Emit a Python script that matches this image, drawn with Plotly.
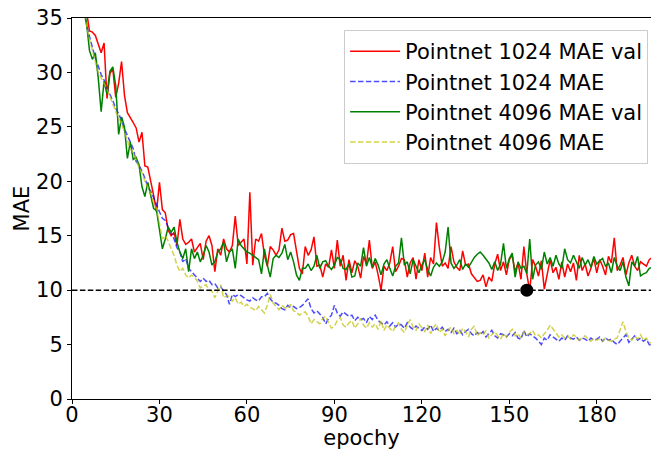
import plotly.graph_objects as go

# Per-epoch MAE curves (epochs 0..199)
val_1024 = [
    48.0, 44.5, 41.0, 39.0, 37.0, 35.6, 33.8, 33.7, 33.4, 32.6,
    31.8, 32.7, 27.6, 29.9, 30.3, 27.7, 29.0, 31.0, 27.9, 26.3,
    25.9, 25.4, 24.9, 23.6, 24.5, 21.4, 21.3, 20.1, 18.7, 17.2,
    19.9, 17.4, 17.1, 15.5, 15.0, 15.3, 14.1, 16.5, 14.7, 14.2,
    14.4, 14.7, 13.5, 13.9, 14.3, 12.8, 14.5, 15.0, 14.1, 11.7,
    13.8, 13.2, 14.7, 13.8, 13.5, 14.1, 16.8, 14.1, 14.4, 14.7,
    12.4, 19.0, 12.3, 14.7, 14.5, 15.2, 13.2, 12.2, 14.0, 13.7,
    13.2, 13.7, 15.7, 14.5, 14.6, 15.1, 15.2, 13.7, 12.0, 11.5,
    14.0, 13.2, 13.7, 14.9, 12.2, 12.3, 11.2, 12.4, 12.1, 13.7,
    12.0, 14.6, 12.2, 13.2, 10.9, 12.8, 11.6, 12.7, 12.2, 11.1,
    13.1, 12.4, 14.6, 12.0, 12.6, 11.4, 10.0, 12.2, 11.8, 12.5,
    14.0, 11.7, 12.2, 12.9, 12.8, 11.2, 12.5, 13.0, 11.0, 12.8,
    11.8, 13.4, 11.2, 13.0, 12.4, 16.2, 13.9, 12.2, 12.5, 12.0,
    14.0, 12.6, 12.1, 11.8, 13.6, 12.3, 12.4, 11.5, 11.2, 10.8,
    10.9, 11.4, 10.3, 11.2, 10.8, 12.4, 13.3, 11.8, 12.6, 11.4,
    12.8, 13.2, 11.7, 12.5, 11.0, 14.0, 11.5, 9.9, 12.8, 12.2,
    11.3, 12.7, 10.1, 11.5, 12.8, 11.6, 12.1, 11.0, 12.6, 11.2,
    12.4, 11.7, 12.5, 10.9, 13.2, 11.8, 12.4, 11.3, 12.0, 12.9,
    11.6, 12.8, 12.2, 11.4, 13.1, 12.5, 14.8, 11.8, 12.3, 13.0,
    11.4, 12.5, 13.2, 12.2, 11.8, 12.6, 12.4, 12.2, 12.8, 13.0,
]

train_1024 = [
    45.0, 42.0, 39.5, 37.5, 35.8, 34.3, 33.3, 32.2, 31.3, 30.6,
    29.8, 29.3, 28.6, 28.0, 27.4, 26.7, 26.2, 25.6, 24.8, 24.2,
    23.6, 23.0, 21.8, 21.5, 20.9, 20.3, 19.5, 19.1, 18.5, 17.8,
    17.2, 16.6, 16.4, 15.8, 15.2, 14.7, 13.9, 13.5, 12.6, 12.9,
    12.0, 11.7, 11.4, 11.1, 10.8, 11.1, 10.8, 10.9, 10.5, 10.6,
    10.2, 10.3, 9.9, 9.6, 8.7, 9.6, 9.4, 9.6, 9.5, 9.3,
    9.1, 9.0, 9.3, 9.1, 9.0, 9.4, 9.4, 9.7, 9.2, 8.9,
    8.8, 8.6, 8.3, 8.2, 8.6, 8.4, 8.5, 8.3, 8.4, 8.6,
    8.9, 9.2, 8.3, 7.9, 8.1, 7.8, 7.5, 6.9, 7.4, 7.7,
    8.6, 7.9, 7.6, 8.0, 7.8, 7.6, 7.7, 7.2, 7.5, 7.3,
    7.4, 7.0, 7.6, 7.3, 7.7, 7.2, 7.0, 6.8, 7.1, 6.7,
    7.0, 6.6, 6.9, 6.8, 6.5, 7.0, 6.6, 6.4, 6.7, 6.5,
    6.3, 6.6, 6.4, 6.8, 6.2, 6.5, 6.3, 6.6, 6.2, 6.4,
    6.1, 6.5, 6.0, 6.3, 5.9, 6.2, 6.4, 6.0, 5.8, 6.1,
    5.9, 6.2, 5.7, 6.0, 6.3, 5.8, 5.6, 6.0, 5.9, 5.7,
    6.0, 5.8, 6.1, 5.6, 5.5, 6.3, 5.7, 6.0, 5.8, 5.6,
    5.3, 5.0, 5.6, 5.4, 5.9, 5.7, 5.5, 5.3, 5.6, 5.4,
    5.8, 5.6, 5.5, 5.7, 5.4, 5.6, 5.5, 5.3, 5.6, 5.4,
    5.5, 5.7, 5.3, 5.6, 5.4, 5.5, 5.2, 5.0, 5.3, 5.6,
    5.9, 5.2, 5.5, 5.8, 5.4, 5.6, 5.3, 5.5, 5.0, 4.9,
]

val_4096 = [
    47.0, 43.5, 40.0, 37.5, 36.0, 34.5, 32.0, 31.2, 31.8, 29.5,
    26.4, 29.2, 28.0, 30.1, 30.5, 28.8, 24.3, 25.9, 25.0, 22.1,
    23.6, 22.0, 22.2, 21.5, 19.5, 18.6, 19.9, 18.6, 17.5, 17.3,
    15.6, 13.8, 14.7, 15.8, 15.3, 15.8, 14.4, 13.5, 12.9, 13.8,
    11.7, 13.8, 12.9, 13.5, 12.6, 13.2, 14.1, 13.5, 12.3, 12.6,
    13.5, 13.8, 14.4, 12.6, 13.5, 13.8, 12.0, 14.7, 14.1, 13.8,
    13.5, 13.4, 13.2, 13.0, 12.8, 11.5, 13.8, 12.3, 11.2, 12.9,
    13.2, 13.0, 13.4, 14.2, 12.8, 13.5, 12.6, 11.4, 10.9, 12.0,
    12.0, 12.4, 11.8, 12.2, 13.2, 12.0, 12.6, 12.7, 12.2, 11.9,
    12.3, 13.0, 12.8, 12.0, 11.9, 12.4, 11.2, 11.3, 12.5, 12.2,
    13.9, 12.2, 13.0, 12.1, 12.9, 12.3, 11.4, 12.4, 12.8, 12.0,
    11.3, 12.2, 12.5, 14.8, 12.3, 12.6, 11.5, 12.8, 12.2, 11.6,
    12.3, 12.8, 11.9, 11.3, 12.1, 12.5, 12.2, 12.6, 13.5, 15.8,
    12.5, 12.0, 12.3, 12.8, 11.9, 12.4, 12.1, 12.6, 13.0, 13.3,
    13.5, 13.2, 12.8, 12.5, 11.9, 12.6, 11.8, 12.4, 14.3, 12.0,
    12.9, 13.4, 11.2, 12.6, 12.0, 12.2, 11.5, 14.7, 11.0, 12.3,
    12.6, 11.9, 13.5, 12.4, 13.0, 12.2, 13.2, 12.4, 12.0, 13.8,
    12.8, 12.5, 13.2, 12.6, 12.0, 13.0, 12.3, 12.8, 12.1, 13.1,
    12.4, 12.7, 12.9, 12.2, 12.5, 11.6, 13.0, 12.2, 11.8, 12.6,
    11.2, 10.4, 12.6, 12.2, 13.1, 11.3, 11.5, 11.6, 12.0, 12.1,
]

train_4096 = [
    44.0, 41.5, 39.0, 37.2, 35.5, 34.2, 33.0, 32.0, 31.0, 30.0,
    29.5, 29.0, 28.5, 27.8, 27.0, 26.4, 25.8, 25.3, 24.5, 23.8,
    23.0, 22.6, 22.0, 21.2, 20.8, 20.0, 19.4, 18.9, 18.0, 17.5,
    16.1, 14.7, 15.0, 14.5, 13.8, 13.2, 12.3, 11.7, 12.0, 11.4,
    11.1, 11.4, 11.2, 10.8, 10.2, 10.4, 10.5, 10.0, 9.9, 9.3,
    9.9, 10.5, 9.3, 9.5, 9.4, 9.0, 9.3, 8.7, 8.9, 8.5,
    8.7, 8.4, 8.3, 8.1, 8.5, 8.2, 7.9, 8.6, 9.6, 8.8,
    8.5, 8.2, 8.6, 8.4, 8.3, 8.7, 8.1, 8.0, 7.7, 7.9,
    8.0, 7.6, 6.9, 7.3, 7.1, 6.9, 7.4, 7.6, 7.0, 6.5,
    6.7, 7.2, 7.5, 6.8, 6.6, 7.0, 7.2, 6.5, 6.9, 7.4,
    6.8, 6.5, 7.0, 6.6, 6.9, 6.4, 7.2, 6.3, 6.8, 6.5,
    6.2, 6.7, 7.0, 6.4, 6.1, 6.8, 7.3, 6.6, 6.3, 6.9,
    6.5, 6.2, 6.8, 6.0, 6.6, 6.9, 6.1, 6.4, 5.8, 6.3,
    6.6, 6.0, 6.3, 5.9, 6.5, 6.2, 5.7, 6.4, 6.7, 5.8,
    6.1, 5.9, 6.3, 5.6, 5.9, 6.2, 5.8, 5.5, 6.0, 5.7,
    6.1, 6.4, 5.8, 6.0, 5.6, 6.2, 5.9, 6.0, 6.3, 5.8,
    5.9, 5.6, 6.0, 6.3, 6.8, 6.4, 6.1, 5.7, 5.9, 5.6,
    5.8, 5.5, 5.9, 5.7, 5.4, 5.6, 5.8, 5.5, 5.3, 5.6,
    5.4, 5.5, 5.3, 5.6, 5.4, 5.3, 5.5, 5.6, 6.4, 7.1,
    6.2, 5.6, 5.4, 5.8, 5.5, 5.9, 5.4, 5.6, 5.2, 5.1,
]

epochs = list(range(len(val_1024)))

target_mae = 10
best_epoch = 156

FONT = "DejaVu Sans"
FS = 21

fig = go.Figure()
fig.add_trace(go.Scatter(x=epochs, y=val_1024, mode="lines",
                         name="Pointnet 1024 MAE val",
                         line=dict(color="#ff0000", width=1.5)))
fig.add_trace(go.Scatter(x=epochs, y=train_1024, mode="lines",
                         name="Pointnet 1024 MAE",
                         line=dict(color="rgba(0,0,255,0.7)", width=1.5,
                                   dash="5.5px,2.4px")))
fig.add_trace(go.Scatter(x=epochs, y=val_4096, mode="lines",
                         name="Pointnet 4096 MAE val",
                         line=dict(color="#008000", width=1.5)))
fig.add_trace(go.Scatter(x=epochs, y=train_4096, mode="lines",
                         name="Pointnet 4096 MAE",
                         line=dict(color="rgba(191,191,0,0.7)", width=1.5,
                                   dash="5.5px,2.4px")))

# Target threshold line
fig.add_shape(type="line", xref="paper", x0=0, x1=1, yref="y",
              y0=target_mae, y1=target_mae,
              line=dict(color="black", width=1.5, dash="5.5px,2.4px"))

fig.add_trace(go.Scatter(x=[best_epoch], y=[target_mae], mode="markers",
                         showlegend=False,
                         marker=dict(color="black", size=13)))

axis_common = dict(
    showline=True, linecolor="black", linewidth=1, mirror=True,
    ticks="outside", ticklen=4, tickwidth=1, tickcolor="black",
    showgrid=False, zeroline=False,
    tickfont=dict(family=FONT, size=FS, color="black"),
)

fig.update_layout(
    width=651, height=450,
    margin=dict(l=72, r=0, t=18, b=51),
    plot_bgcolor="white", paper_bgcolor="white",
    font=dict(family=FONT, size=FS, color="black"),
    xaxis=dict(range=[0, 198.6], tickmode="linear", tick0=0, dtick=30,
               ticklabelstandoff=-7,
               title=dict(text="epochy", standoff=0,
                          font=dict(family=FONT, size=FS)),
               **axis_common),
    yaxis=dict(range=[0, 35], tickmode="linear", tick0=0, dtick=5,
               title=dict(text="MAE", standoff=0,
                          font=dict(family=FONT, size=FS)),
               **axis_common),
    legend=dict(x=0.995, y=0.9685, xanchor="right", yanchor="top",
                bgcolor="rgba(255,255,255,0.8)", bordercolor="#cccccc",
                borderwidth=1, font=dict(family=FONT, size=FS),
                itemwidth=50, tracegroupgap=0),
    showlegend=True,
)

fig.write_html("out.html")
